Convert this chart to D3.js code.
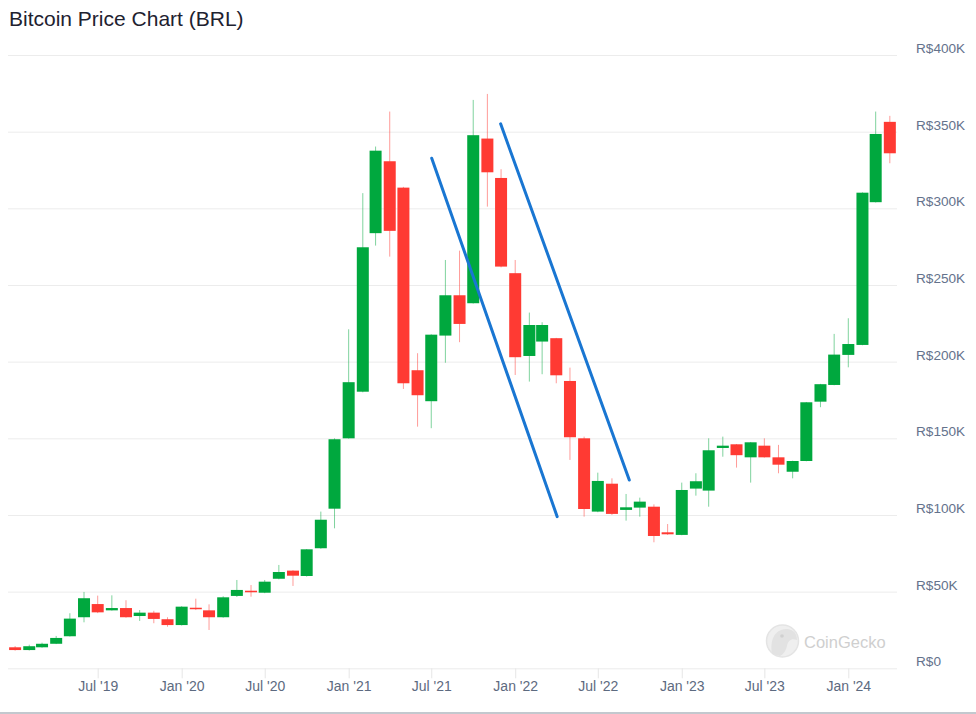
<!DOCTYPE html>
<html>
<head>
<meta charset="utf-8">
<script src="https://cdn.jsdelivr.net/npm/d3@7/dist/d3.min.js"></script>
<style>
  html, body { margin: 0; padding: 0; background: #fff; }
  svg { display: block; }
</style>
</head>
<body>
<svg id="chart" width="976" height="714"></svg>
<script>
// ---- Data (monthly candles, values in thousands of BRL) ----
const months = ["2019-01","2019-02","2019-03","2019-04","2019-05","2019-06","2019-07","2019-08","2019-09","2019-10","2019-11","2019-12",
"2020-01","2020-02","2020-03","2020-04","2020-05","2020-06","2020-07","2020-08","2020-09","2020-10","2020-11","2020-12",
"2021-01","2021-02","2021-03","2021-04","2021-05","2021-06","2021-07","2021-08","2021-09","2021-10","2021-11","2021-12",
"2022-01","2022-02","2022-03","2022-04","2022-05","2022-06","2022-07","2022-08","2022-09","2022-10","2022-11","2022-12",
"2023-01","2023-02","2023-03","2023-04","2023-05","2023-06","2023-07","2023-08","2023-09","2023-10","2023-11","2023-12",
"2024-01","2024-02","2024-03","2024-04"];
const openV  = [13.7,11.9,13.7,16.0,20.9,33.3,41.9,37.8,39.3,34.1,36.3,32.0,
28.2,39.5,37.8,33.3,47.2,50.6,49.3,58.4,63.7,60.2,78.3,104.1,
150.0,180.4,283.8,330.7,313.5,194.4,174.2,217.0,243.3,238.1,345.5,319.8,
257.7,203.7,213.1,215.3,187.4,150.0,102.2,120.4,103.3,104.8,105.4,88.7,
87.0,117.2,115.9,143.7,146.1,137.6,145.2,137.6,128.2,135.2,173.9,184.8,
204.4,210.9,304.0,356.4];
const highV  = [14.5,15.4,16.7,21.1,35.9,49.8,47.4,47.6,44.4,38.0,37.5,33.3,
40.5,45.4,41.7,47.0,57.6,54.3,57.6,67.4,64.0,77.8,102.2,150.0,
221.1,309.9,340.3,363.1,314.0,205.5,217.8,266.3,272.4,370.7,374.6,325.5,
266.3,232.0,225.7,215.5,196.1,151.1,127.6,123.9,113.7,111.3,106.9,94.1,
121.1,127.2,150.0,151.1,146.3,147.6,150.0,145.7,135.4,173.7,185.5,218.1,
228.3,310.4,363.1,360.3];
const lowV   = [11.5,11.6,13.4,15.8,20.7,30.0,36.0,37.6,33.0,30.9,29.4,27.1,
27.9,38.0,25.0,33.0,46.5,46.7,49.0,58.0,53.7,59.8,78.0,91.3,
149.8,180.0,275.7,268.5,182.2,157.6,156.6,199.3,212.7,237.9,301.1,261.5,
191.3,187.0,191.8,185.9,135.9,98.9,101.8,100.0,96.3,98.9,82.2,87.0,
86.8,112.6,105.4,138.0,130.9,121.1,137.4,127.2,123.9,135.0,170.3,184.6,
196.3,210.7,303.8,329.4];
const closeV = [11.9,14.4,16.0,19.8,32.4,45.7,36.5,39.3,33.3,36.3,32.2,28.2,
40.2,38.7,33.3,46.3,51.1,49.6,56.5,62.8,60.4,77.6,96.9,149.4,
186.6,274.6,337.6,285.3,185.9,178.1,217.6,243.3,224.6,347.7,323.5,262.0,
202.9,223.9,223.9,191.1,150.7,103.9,122.2,100.7,105.0,108.7,86.3,87.4,
116.3,122.0,142.2,145.2,139.0,147.4,137.6,132.8,135.2,173.5,185.3,204.6,
211.5,310.2,348.5,335.9];

// y-axis ticks (thousands) and labels
const yTicks = [0,50,100,150,200,250,300,350,400];
const yTickLabels = ["R$0","R$50K","R$100K","R$150K","R$200K","R$250K","R$300K","R$350K","R$400K"];
// x-axis ticks
const xTickDates = ["2019-07-01","2020-01-01","2020-07-01","2021-01-01","2021-07-01","2022-01-01","2022-07-01","2023-01-01","2023-07-01","2024-01-01"];
const xTickLabels = ["Jul '19","Jan '20","Jul '20","Jan '21","Jul '21","Jan '22","Jul '22","Jan '23","Jul '23","Jan '24"];
// trend lines drawn on the chart: [start date, start value, end date, end value]
const trendStartDates = ["2021-07-02","2021-11-30"];
const trendStartVals  = [332.7, 355.1];
const trendEndDates   = ["2022-04-03","2022-09-08"];
const trendEndVals    = [98.9, 122.8];

// ---- Chart ----
const svg = d3.select("#chart");
const W = 976, H = 714;
const plotLeft = 8, plotRight = 897, plotTop = 55, plotBottom = 668.3;

const parse = d3.utcParse("%Y-%m-%d");
const pm = d3.utcParse("%Y-%m");
const x = d3.scaleUtc()
  .domain([new Date(Date.UTC(2018, 11, 16, 10)), new Date(Date.UTC(2024, 3, 16, 17))])
  .range([plotLeft, plotRight]);
const y = d3.scaleLinear().domain([0, 400]).range([plotBottom, plotTop]);

const data = months.map((m, i) => ({ date: pm(m), o: openV[i], h: highV[i], l: lowV[i], c: closeV[i] }));

const GREEN = "#00a83e", RED = "#ff3a33";

// title
svg.append("text")
  .attr("x", 9).attr("y", 26)
  .attr("font-family", "Liberation Sans, Arial, sans-serif")
  .attr("font-size", 21)
  .attr("fill", "#1e2230")
  .text("Bitcoin Price Chart (BRL)");

// gridlines + y labels
const yAxis = d3.axisRight(y).tickValues(yTicks).tickSize(plotRight - plotLeft)
  .tickFormat((d, i) => yTickLabels[i]);
const gy = svg.append("g").attr("transform", `translate(${plotLeft},0)`).call(yAxis);
gy.select(".domain").remove();
gy.selectAll(".tick line").attr("stroke", "#ececec").attr("stroke-width", 1);
gy.selectAll(".tick text")
  .attr("x", 916 - plotLeft).attr("dy", -2.5)
  .attr("text-anchor", "start")
  .attr("font-family", "Liberation Sans, Arial, sans-serif")
  .attr("font-size", 13.6)
  .attr("fill", "#64728c");
gy.selectAll(".tick text").attr("y", 0);

// x axis
const xAxis = d3.axisBottom(x).tickValues(xTickDates.map(parse)).tickSize(10)
  .tickFormat((d, i) => xTickLabels[i]);
const gx = svg.append("g").attr("transform", `translate(0,${plotBottom})`).call(xAxis);
gx.select(".domain").remove();
gx.selectAll(".tick line").attr("stroke", "#e6e6e6");
gx.selectAll(".tick text")
  .attr("y", 23).attr("dy", 0)
  .attr("font-family", "Liberation Sans, Arial, sans-serif")
  .attr("font-size", 14)
  .attr("fill", "#5d6a80");

// watermark
const wm = svg.append("g");
wm.append("circle").attr("cx", 782.5).attr("cy", 641).attr("r", 16).attr("fill", "#efefef").attr("stroke", "#e4e4e4").attr("stroke-width", 1.5);
wm.append("path").attr("d", "M772,654 C770,640 774,630 786,629 C794,629 797,634 797,640 C792,638 788,640 787,646 C786,650 784,654 780,656 Z").attr("fill", "#e2e2e2");
wm.append("circle").attr("cx", 782).attr("cy", 636).attr("r", 1.8).attr("fill", "#d0d0d0");
wm.append("text").attr("x", 804).attr("y", 647.5)
  .attr("font-family", "Liberation Sans, Arial, sans-serif")
  .attr("font-size", 16.5).attr("fill", "#cfcfcf")
  .text("CoinGecko");

// candles
const cw = 12;
const candles = svg.append("g").selectAll("g").data(data).join("g");
candles.append("line")
  .attr("x1", d => x(d.date)).attr("x2", d => x(d.date))
  .attr("y1", d => y(d.h)).attr("y2", d => y(d.l))
  .attr("stroke", d => d.c >= d.o ? GREEN : RED)
  .attr("stroke-opacity", 0.5)
  .attr("stroke-width", 1);
candles.append("rect")
  .attr("x", d => x(d.date) - cw / 2)
  .attr("width", cw)
  .attr("y", d => y(Math.max(d.o, d.c)))
  .attr("height", d => Math.max(1.5, Math.abs(y(d.o) - y(d.c))))
  .attr("fill", d => d.c >= d.o ? GREEN : RED);

// trend lines
trendStartDates.forEach((s, i) => {
  svg.append("line")
    .attr("x1", x(parse(s))).attr("y1", y(trendStartVals[i]))
    .attr("x2", x(parse(trendEndDates[i]))).attr("y2", y(trendEndVals[i]))
    .attr("stroke", "#1976d2").attr("stroke-width", 3).attr("stroke-linecap", "round");
});

// bottom border
svg.append("rect").attr("x", 0).attr("y", 712).attr("width", W).attr("height", 2).attr("fill", "#c3c8ce");
</script>
</body>
</html>
